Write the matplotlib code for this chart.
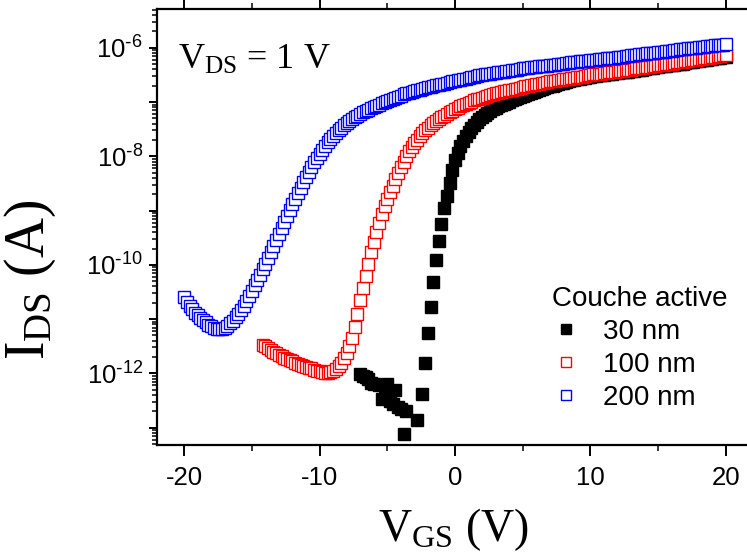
import numpy as np
import matplotlib
matplotlib.use('Agg')
import matplotlib.pyplot as plt
from matplotlib.ticker import LogLocator, MultipleLocator, FuncFormatter, NullFormatter

plt.rcParams['axes.unicode_minus'] = False
plt.rcParams['font.family'] = 'Liberation Sans'

# gate voltage sweeps (0.2 V steps)
vgs_200 = np.linspace(-20, 20, 201)
vgs_100 = np.linspace(-14.2, 20, 172)
vgs_30_low = [-7.0, -6.8, -6.6, -6.4, -6.2, -6.0, -5.6, -5.4, -5.2, -5.0,
              -4.8, -4.6, -4.4, -4.2, -4.0, -3.8, -3.6, -2.8]
vgs_30_high = np.linspace(-2.4, 20, 113)

# log10(I_DS / A)
log_ids_200 = [
    -10.60, -10.68, -10.76, -10.82, -10.88, -10.93, -10.98, -11.02, -11.06, -11.10,
    -11.13, -11.16, -11.18, -11.19, -11.19, -11.17, -11.13, -11.08, -11.03, -10.97,
    -10.91, -10.83, -10.75, -10.66, -10.57, -10.48, -10.38, -10.28, -10.18, -10.08,
    -9.98, -9.87, -9.76, -9.65, -9.54, -9.43, -9.32, -9.21, -9.10, -8.99,
    -8.88, -8.78, -8.68, -8.58, -8.48, -8.38, -8.29, -8.20, -8.11, -8.03,
    -7.95, -7.88, -7.81, -7.74, -7.68, -7.62, -7.57, -7.52, -7.47, -7.42,
    -7.38, -7.34, -7.31, -7.28, -7.25, -7.22, -7.19, -7.16, -7.14, -7.11,
    -7.09, -7.07, -7.05, -7.02, -7.00, -6.98, -6.96, -6.94, -6.92, -6.90,
    -6.88, -6.86, -6.84, -6.83, -6.81, -6.80, -6.78, -6.77, -6.76, -6.74,
    -6.73, -6.72, -6.70, -6.69, -6.68, -6.67, -6.66, -6.64, -6.63, -6.62,
    -6.61, -6.60, -6.59, -6.58, -6.57, -6.55, -6.54, -6.53, -6.52, -6.51,
    -6.50, -6.49, -6.48, -6.48, -6.47, -6.46, -6.45, -6.44, -6.44, -6.43,
    -6.42, -6.41, -6.40, -6.40, -6.39, -6.38, -6.37, -6.37, -6.36, -6.36,
    -6.35, -6.34, -6.34, -6.33, -6.33, -6.32, -6.31, -6.31, -6.30, -6.30,
    -6.29, -6.28, -6.28, -6.27, -6.27, -6.26, -6.25, -6.25, -6.24, -6.24,
    -6.23, -6.22, -6.22, -6.21, -6.21, -6.20, -6.19, -6.19, -6.18, -6.18,
    -6.17, -6.16, -6.16, -6.15, -6.15, -6.14, -6.13, -6.13, -6.12, -6.12,
    -6.11, -6.10, -6.10, -6.09, -6.09, -6.08, -6.07, -6.07, -6.06, -6.06,
    -6.05, -6.04, -6.04, -6.03, -6.03, -6.02, -6.01, -6.01, -6.00, -6.00,
    -5.99, -5.98, -5.98, -5.97, -5.97, -5.96, -5.95, -5.95, -5.94, -5.94,
    -5.93]

log_ids_100 = [
    -11.47, -11.50, -11.53, -11.56, -11.60, -11.63, -11.66, -11.68, -11.71, -11.73,
    -11.76, -11.78, -11.80, -11.82, -11.84, -11.86, -11.88, -11.90, -11.91, -11.93,
    -11.95, -11.96, -11.98, -11.99, -12.00, -11.98, -11.96, -11.92, -11.87, -11.80,
    -11.72, -11.62, -11.50, -11.35, -11.15, -10.90, -10.65, -10.42, -10.20, -9.98,
    -9.77, -9.57, -9.39, -9.22, -9.06, -8.92, -8.79, -8.66, -8.54, -8.42,
    -8.31, -8.20, -8.10, -8.00, -7.91, -7.83, -7.76, -7.69, -7.63, -7.57,
    -7.52, -7.47, -7.43, -7.39, -7.35, -7.31, -7.28, -7.25, -7.22, -7.19,
    -7.16, -7.13, -7.11, -7.08, -7.06, -7.03, -7.01, -6.99, -6.97, -6.95,
    -6.94, -6.92, -6.90, -6.89, -6.87, -6.86, -6.84, -6.83, -6.82, -6.80,
    -6.79, -6.78, -6.77, -6.76, -6.75, -6.74, -6.72, -6.71, -6.70, -6.69,
    -6.68, -6.67, -6.66, -6.65, -6.64, -6.63, -6.62, -6.61, -6.61, -6.60,
    -6.59, -6.58, -6.57, -6.57, -6.56, -6.55, -6.54, -6.53, -6.53, -6.52,
    -6.51, -6.50, -6.49, -6.49, -6.48, -6.48, -6.47, -6.46, -6.45, -6.45,
    -6.44, -6.43, -6.42, -6.42, -6.41, -6.41, -6.40, -6.39, -6.38, -6.38,
    -6.37, -6.36, -6.35, -6.35, -6.34, -6.33, -6.32, -6.31, -6.31, -6.30,
    -6.29, -6.29, -6.28, -6.27, -6.26, -6.26, -6.25, -6.24, -6.23, -6.23,
    -6.22, -6.21, -6.20, -6.19, -6.19, -6.18, -6.17, -6.16, -6.15, -6.15,
    -6.14, -6.13]

log_ids_30_low = [-12.02, -12.04, -12.07, -12.10, -12.17, -12.20, -12.22, -12.47, -12.24, -12.20,
                  -12.50, -12.56, -12.30, -12.62, -12.66, -13.12, -12.70, -12.86]
log_ids_30_high = [
    -12.38, -11.80, -11.26, -10.78, -10.32, -9.91, -9.56, -9.25, -8.95, -8.73,
    -8.49, -8.26, -8.06, -7.93, -7.81, -7.71, -7.62, -7.55, -7.48, -7.42,
    -7.37, -7.32, -7.28, -7.24, -7.20, -7.17, -7.13, -7.10, -7.08, -7.05,
    -7.03, -7.01, -6.99, -6.97, -6.95, -6.93, -6.91, -6.89, -6.87, -6.86,
    -6.84, -6.82, -6.80, -6.78, -6.76, -6.74, -6.73, -6.71, -6.70, -6.68,
    -6.67, -6.65, -6.64, -6.63, -6.62, -6.60, -6.59, -6.58, -6.57, -6.56,
    -6.55, -6.54, -6.53, -6.52, -6.52, -6.51, -6.51, -6.50, -6.49, -6.48,
    -6.48, -6.47, -6.46, -6.45, -6.45, -6.44, -6.44, -6.43, -6.42, -6.41,
    -6.41, -6.40, -6.39, -6.38, -6.38, -6.37, -6.36, -6.35, -6.34, -6.34,
    -6.33, -6.32, -6.32, -6.31, -6.30, -6.29, -6.29, -6.28, -6.27, -6.26,
    -6.26, -6.25, -6.24, -6.23, -6.22, -6.22, -6.21, -6.20, -6.19, -6.18,
    -6.18, -6.17, -6.16]

labels = ['30 nm', '100 nm', '200 nm']

vgs_30 = np.concatenate([vgs_30_low, vgs_30_high])
ids_30 = 10.0 ** np.array(log_ids_30_low + log_ids_30_high)
ids_100 = 10.0 ** np.array(log_ids_100)
ids_200 = 10.0 ** np.array(log_ids_200)

fig = plt.figure(figsize=(7.47, 5.55), dpi=100)
# axes ends at the right edge of the canvas (the frame runs off the picture)
ax = fig.add_axes([157 / 747, 1 - 445 / 555, 590 / 747, 435.7 / 555])
ax.patch.set_visible(False)

ms = 8.6
ax.plot(vgs_30, ids_30, 's', ms=ms, mfc='black', mec='black', mew=1.0, label=labels[0], zorder=2)
ax.plot(vgs_100, ids_100, 's', ms=ms, mfc='white', mec='red', mew=1.0, label=labels[1], zorder=3)
ax.plot(vgs_200, ids_200, 's', ms=ms, mfc='white', mec='blue', mew=1.0, label=labels[2], zorder=4)

ax.set_yscale('log')
ax.set_xlim(-22, -22 + 590 / 13.545)
ax.set_ylim(10 ** -13.32, 10 ** -5.29)

ax.xaxis.set_major_locator(MultipleLocator(10))
ax.xaxis.set_minor_locator(MultipleLocator(5))
ax.yaxis.set_major_locator(LogLocator(base=10, numticks=30))
ax.yaxis.set_minor_locator(LogLocator(base=10, subs=np.arange(2, 10), numticks=30))


def fmt_decade(v, pos):
    e = int(round(np.log10(v)))
    if e % 2 == 0:
        return r'$\mathregular{10^{\text{-}%d}}$' % (-e)
    return ''


ax.yaxis.set_major_formatter(FuncFormatter(fmt_decade))
ax.yaxis.set_minor_formatter(NullFormatter())

for s in ax.spines.values():
    s.set_linewidth(1.6)
ax.spines['right'].set_visible(False)

ax.tick_params(which='major', direction='out', length=6, width=1.4, labelsize=18.5, pad=4)
ax.tick_params(which='minor', direction='out', length=3.6, width=1.1)
ax.tick_params(axis='x', which='major', length=8, pad=7)
ax.tick_params(axis='x', which='minor', length=4.5)
ax.tick_params(axis='x', which='both', top=True, labeltop=False)
ax.tick_params(axis='y', which='both', right=False)

serif = 'Liberation Serif'
fig.text(453 / 747, 1 - 530 / 555, r'$\mathregular{V_{GS}}$ (V)', family=serif,
         fontsize=33, ha='center', va='center')
fig.text(30 / 747, 1 - 280 / 555, r'$\mathregular{I_{DS}}$ (A)', family=serif,
         fontsize=40, ha='center', va='center', rotation=90)
fig.text(178 / 747, 1 - 69 / 555, r'$\mathregular{V_{DS}}$ = 1 V', family=serif,
         fontsize=26, ha='left', va='baseline')

leg = ax.legend(loc='upper left', bbox_to_anchor=(538 / 747, 1 - 272 / 555),
                bbox_transform=fig.transFigure, frameon=False, fontsize=20,
                title='Couche active', title_fontsize=20, alignment='left',
                handlelength=1.0, handletextpad=0.85, labelspacing=0.25,
                borderpad=0, markerscale=0.9)

fig.savefig('out.png', dpi=100)
